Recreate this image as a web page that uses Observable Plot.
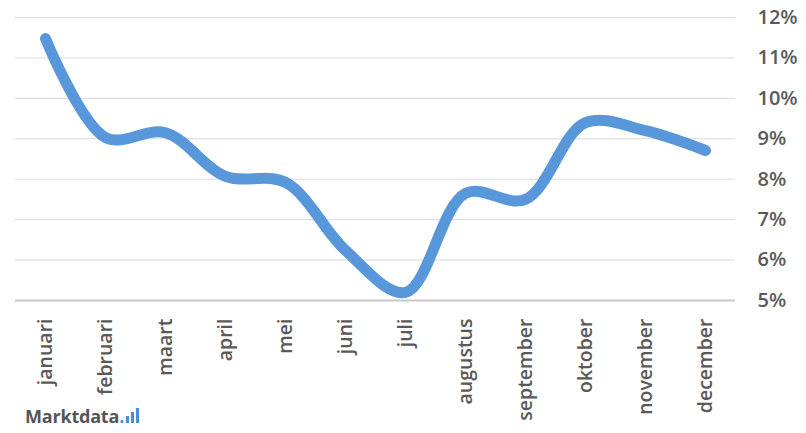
<!DOCTYPE html>
<html>
<head>
<meta charset="utf-8">
<script src="https://cdn.jsdelivr.net/npm/d3@7"></script>
<script src="https://cdn.jsdelivr.net/npm/@observablehq/plot@0.6"></script>
<style>
  html, body { margin: 0; padding: 0; background: #fff; }
  #wrap { position: relative; width: 806px; height: 433px; }
  #logo { position: absolute; left: 25px; top: 404px; font-family: "Open Sans", sans-serif; font-weight: 700; font-size: 18px; color: #555; letter-spacing: -0.2px; }
  #logo .dot { color: #4a90d9; }
  #logo .bar { display: inline-block; width: 3px; background: #4a90d9; margin-left: 2px; vertical-align: baseline; }
</style>
</head>
<body>
<div id="wrap"></div>
<script>
const months = ["januari","februari","maart","april","mei","juni","juli","augustus","september","oktober","november","december"];
const values = [11.48, 9.03, 9.15, 8.07, 7.92, 6.24, 5.2, 7.65, 7.5, 9.4, 9.2, 8.71];
const yTicks = [5, 6, 7, 8, 9, 10, 11, 12];

const data = months.map((m, i) => ({month: m, value: values[i]}));

const chart = Plot.plot({
  width: 806,
  height: 433,
  marginLeft: 15,
  marginRight: 71,
  marginTop: 17,
  marginBottom: 133,
  style: {fontFamily: "'Open Sans', sans-serif", background: "#fff"},
  x: {type: "point", domain: months, padding: 0.5},
  y: {domain: [5, 12]},
  marks: [
    Plot.ruleY(yTicks.slice(1), {stroke: "#d9d9d9", strokeWidth: 1}),
    Plot.ruleY([5], {stroke: "#c8c8c8", strokeWidth: 2}),
    Plot.axisY(yTicks, {anchor: "right", tickSize: 0, tickPadding: 22, tickFormat: d => d + "%", label: null, fontSize: 20, fontWeight: 600, fill: "#595959"}),
    Plot.axisX({tickRotate: -90, tickSize: 0, tickPadding: 18, label: null, fontSize: 19.5, fontWeight: 600, fill: "#595959"}),
    Plot.line(data, {x: "month", y: "value", curve: "catmull-rom", stroke: "#5898da", strokeWidth: 11, strokeLinecap: "round", strokeLinejoin: "round"})
  ]
});
document.getElementById("wrap").appendChild(chart);
const logo = document.createElement("div");
logo.id = "logo";
logo.innerHTML = 'Marktdata<span class="dot">.</span><span class="bar" style="height:7px"></span><span class="bar" style="height:11px"></span><span class="bar" style="height:15px"></span>';
document.getElementById("wrap").appendChild(logo);
</script>
</body>
</html>
